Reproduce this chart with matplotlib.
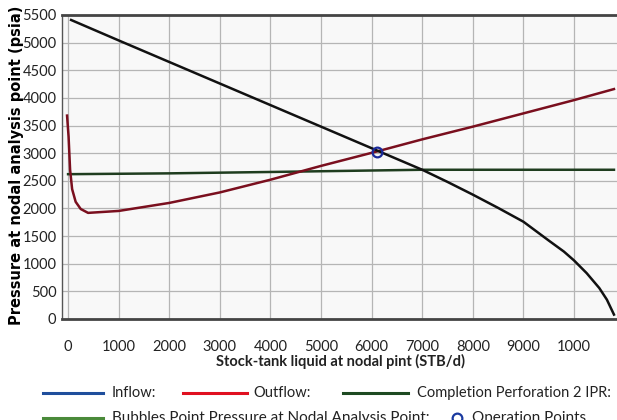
import matplotlib
matplotlib.use("Agg")
import matplotlib.pyplot as plt
from matplotlib.lines import Line2D

FONT = "Lato"

# Data
inflow_q = [60, 1000, 2000, 3000, 4000, 5000, 6000, 7000, 7500, 8000, 8500, 9000, 9500, 9800, 10000, 10250, 10500, 10650, 10790]
inflow_p = [5410, 5040, 4650, 4260, 3870, 3480, 3090, 2700, 2480, 2250, 2010, 1760, 1420, 1220, 1060, 830, 560, 350, 80]

outflow_q = [-20, 10, 40, 80, 150, 250, 395, 1000, 2000, 3000, 4000, 5000, 6100, 7000, 8000, 9000, 10000, 10790]
outflow_p = [3680, 3300, 2700, 2350, 2120, 1990, 1920, 1955, 2100, 2290, 2520, 2770, 3030, 3250, 3480, 3720, 3960, 4160]

ipr_q = [0, 2000, 4000, 5500, 7000, 10790]
ipr_p = [2620, 2635, 2660, 2680, 2700, 2700]

op_q = [6100]
op_p = [3030]

xticks = [0, 1000, 2000, 3000, 4000, 5000, 6000, 7000, 8000, 9000, 10000]
xticklabels = ["0", "1000", "2000", "3000", "4000", "5000", "6000", "7000", "8000", "9000", "1000"]
yticks = list(range(0, 5501, 500))

fig = plt.figure(figsize=(6.17, 4.20), dpi=100)
ax = fig.add_axes([62/617, 1 - 319/420, 555/617, (319 - 15)/420])
ax.set_facecolor("#f8f8f8")

ax.plot(ipr_q, ipr_p, color="#1f3d1f", lw=1.8, zorder=3)
ax.plot(outflow_q, outflow_p, color="#7a0f1e", lw=1.8, zorder=4)
ax.plot(inflow_q, inflow_p, color="#111111", lw=1.8, zorder=5)
ax.plot(op_q, op_p, "o", mfc="none", mec="#1a2a9a", mew=1.6, ms=7, zorder=6)

ax.set_xlim(-120, 10850)
ax.set_ylim(0, 5500)
ax.set_xticks(xticks)
ax.set_xticklabels(xticklabels)
ax.set_yticks(yticks)
ax.grid(True, color="#b5b5b5", lw=0.9)
ax.set_axisbelow(True)
ax.tick_params(axis="both", length=0, labelsize=10.5, colors="#222222")
ax.tick_params(axis="x", pad=15)
ax.tick_params(axis="y", pad=4)
for lab in ax.get_xticklabels() + ax.get_yticklabels():
    lab.set_fontfamily(FONT)

for s in ["top", "bottom"]:
    ax.spines[s].set_color("#444444")
    ax.spines[s].set_linewidth(2.0)
ax.spines["left"].set_color("#555555")
ax.spines["left"].set_linewidth(1.0)
ax.spines["right"].set_visible(False)

fig.text(17/617, 1 - 165/420, "Pressure at nodal analysis point (psia)", rotation=90,
         ha="center", va="center", fontsize=10.5, fontweight="bold", family="DejaVu Sans")
fig.text(340/617, 1 - 361/420, "Stock-tank liquid at nodal pint (STB/d)",
         ha="center", va="center", fontsize=10.5, family=FONT, fontweight="bold", color="#222222")

# legend (two rows, bottom row clipped as in the reference)
def leg_line(x0, x1, y, color):
    fig.add_artist(Line2D([x0/617, x1/617], [1 - y/420, 1 - y/420], color=color, lw=2.2))

def leg_text(x, y, s, size=10.5):
    fig.text(x/617, 1 - y/420, s, ha="left", va="center", fontsize=size, family=FONT,
             color="#222222")

y1 = 393
leg_line(43, 103, y1, "#1f4e9c"); leg_text(112, y1, "Inflow:")
leg_line(183, 247, y1, "#e01020"); leg_text(253, y1, "Outflow:")
leg_line(343, 408, y1, "#1e4a22"); leg_text(417, y1, "Completion Perforation 2 IPR:")
y2 = 418
leg_line(43, 103, y2, "#4a8a3a"); leg_text(112, y2, "Bubbles Point Pressure at Nodal Analysis Point:", 11)
fig.add_artist(Line2D([457/617], [1 - y2/420], marker="o", mfc="none", mec="#1a3aa0", mew=1.6, ms=7, lw=0))
leg_text(472, y2, "Operation Points", 11)

fig.savefig("out.png", dpi=100)
